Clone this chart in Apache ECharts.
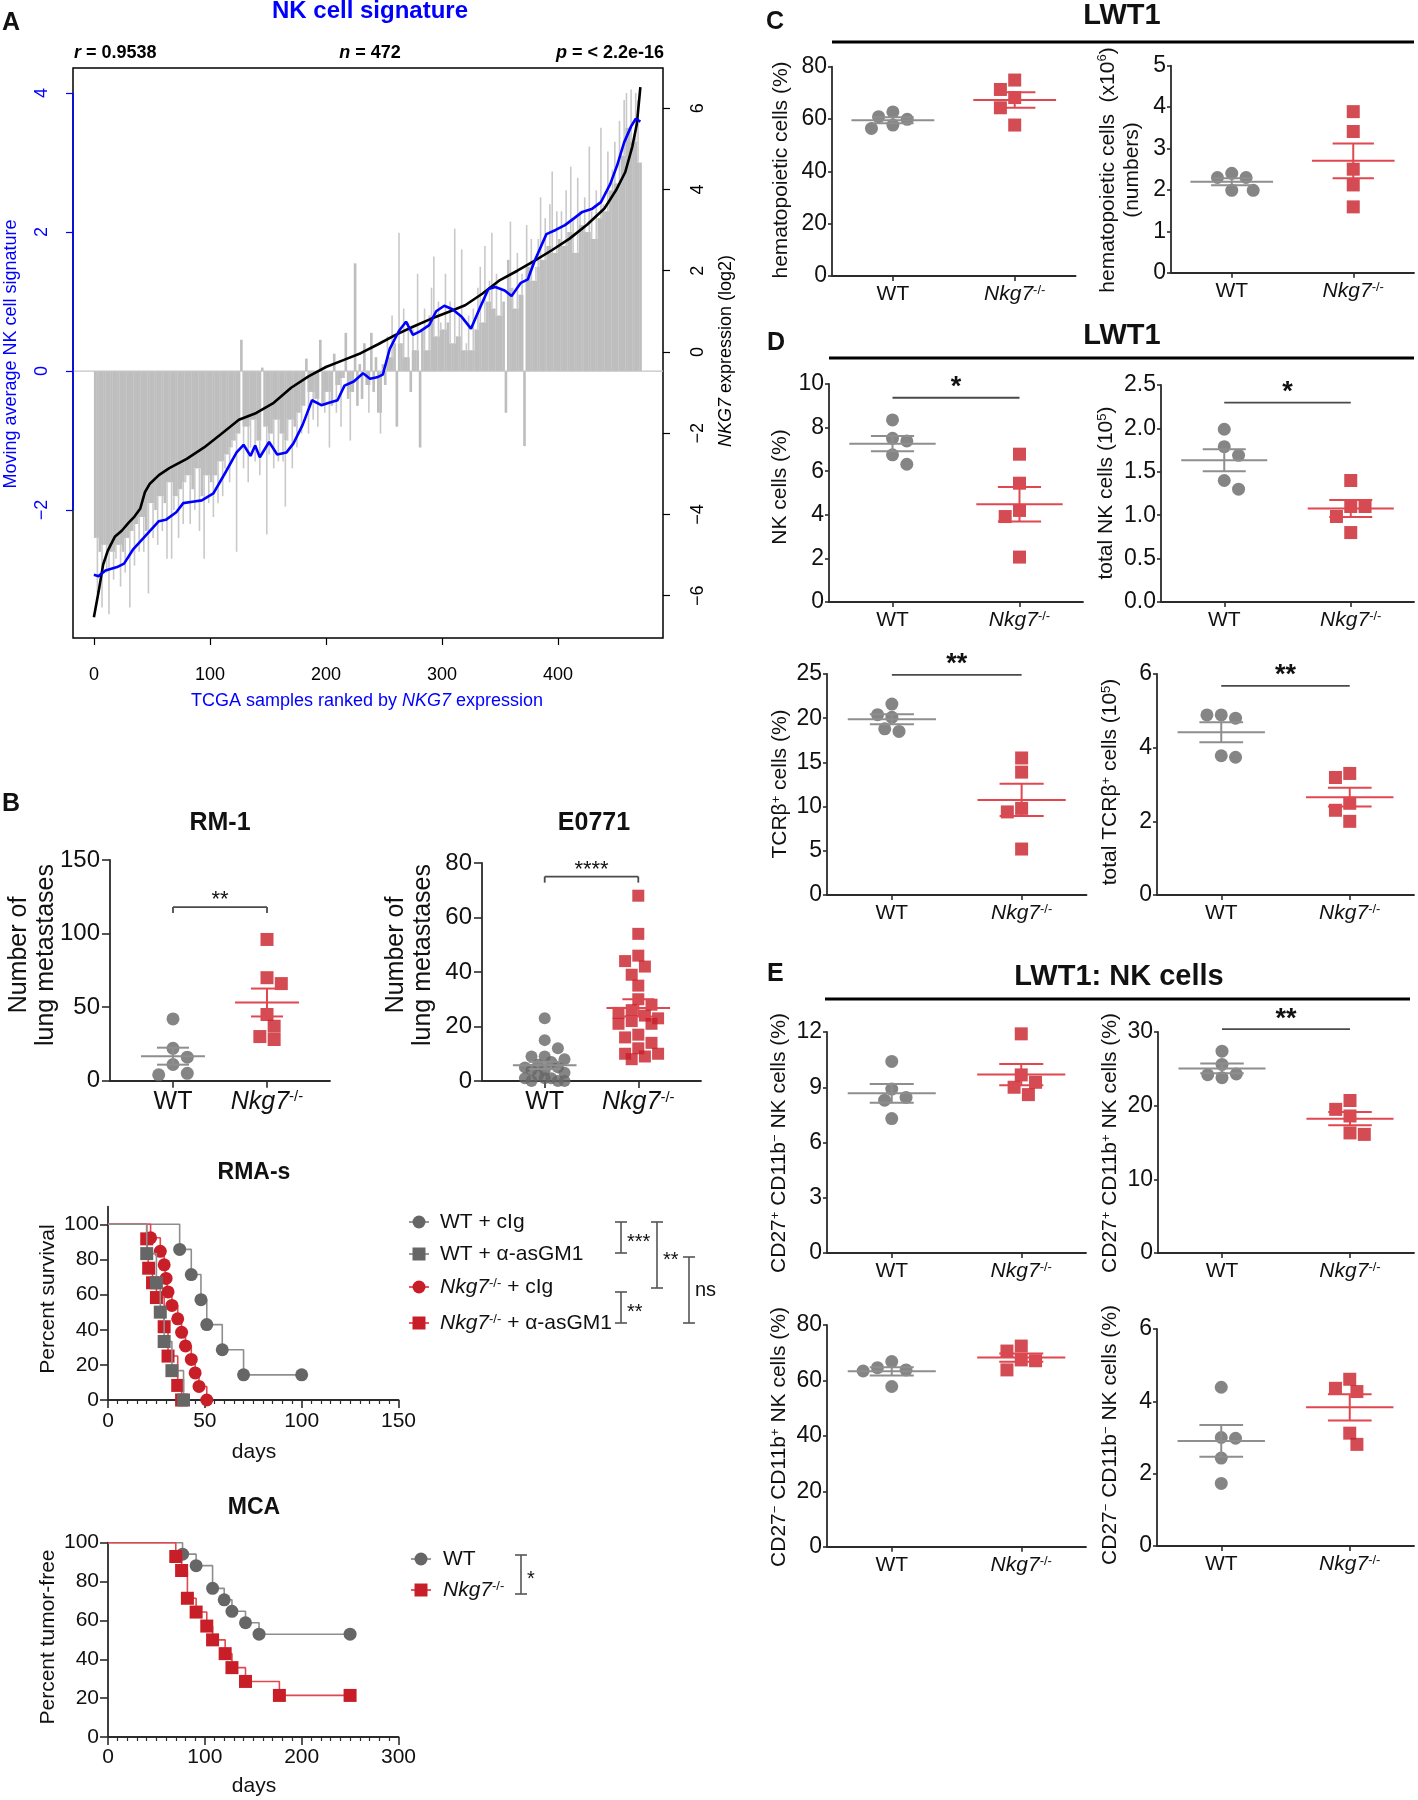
<!DOCTYPE html>
<html><head><meta charset="utf-8">
<script src="https://cdn.jsdelivr.net/npm/echarts@6/dist/echarts.min.js"></script>
<style>html,body{margin:0;padding:0;background:#fff}#c{width:1418px;height:1800px}</style>
</head><body><div id="c"></div>
<script>
// ================= DATA =================
// Panel A: NK cell signature per sample (every 2nd ranked sample: ranks 1,3,5,...,471)
const A_signature = [
-2.4,-3.2,-2.6,-3.4,-2.5,-2.9,-3.5,-2.6,-3.0,-2.7,
-2.5,-3.1,-2.6,-2.9,-2.4,-3.4,-2.3,-2.8,-2.2,-2.6,
-2.1,-2.6,-2.3,-3.2,-1.9,-2.4,-2.0,-2.5,-1.8,-2.3,
-1.9,-2.7,-1.6,-2.7,-2.0,-1.8,-2.4,-1.7,-2.2,-1.6,
-1.5,-2.2,-1.7,-2.0,-1.4,-2.3,-1.8,-2.7,-1.5,-1.9,
-1.6,-2.1,-1.5,-1.9,-1.3,-1.8,-1.4,-1.2,-1.6,-1.1,
-1.0,-2.6,-0.9,0.45,-1.4,-0.8,-1.6,-1.1,-0.7,-1.3,
-1.0,-1.5,0.05,-0.8,-2.35,-1.2,-0.9,-1.4,-0.7,-1.3,
-0.9,-1.3,-1.95,-1.0,-0.7,-1.4,-0.8,-1.1,-0.6,-0.9,
-0.5,0.18,-0.9,-0.3,-0.7,-0.4,-0.8,0.45,-0.5,-0.6,
-0.3,-1.1,-0.5,0.25,-0.6,-0.2,-0.8,-0.1,0.55,-0.4,
-1.0,-0.3,1.55,-0.5,0.1,-0.4,0.4,-0.2,-0.6,0.55,
-0.3,0.2,-0.6,-0.9,0.1,-0.2,0.5,0.2,0.8,0.4,
-0.8,1.99,0.4,0.9,0.2,0.7,-0.3,0.6,0.3,1.4,
-1.1,0.6,0.9,0.3,0.8,1.2,1.65,0.5,1.0,0.7,
0.6,1.4,0.7,1.0,0.4,2.05,0.5,0.8,1.75,0.3,
0.4,0.8,0.3,0.9,0.6,1.2,1.5,0.7,1.8,1.0,
1.3,1.99,0.9,1.4,0.8,1.2,1.0,-0.6,1.6,2.15,
1.2,0.9,1.7,1.1,1.4,-1.08,2.1,1.5,1.9,1.3,
1.5,1.9,2.5,1.6,2.2,1.8,2.4,2.87,1.7,2.3,
1.9,2.3,1.8,2.6,2.0,2.94,2.2,1.7,2.78,2.3,
2.1,2.5,2.0,3.23,2.3,1.9,2.6,2.2,3.5,2.4,
2.3,3.16,2.6,2.9,3.3,2.7,3.6,3.1,3.9,4.0,
3.5,4.05,3.3,4.0,3.9,3.0];
const A_maRank = [0,4,10,20,26,34,45,56,62,71,77,85,93,103,113,123,129,135,139,143,151,158,166,172,180,188,196,202,210,216,224,232,238,244,249,255,263,269,275,281,289,295,302,309,317,325,333,340,346,354,360,368,374,380,390,398,406,414,421,429,437,445,451,457,463,467,471];
const A_maValue = [-2.93,-2.95,-2.87,-2.82,-2.77,-2.56,-2.36,-2.16,-2.14,-2.03,-1.9,-1.88,-1.86,-1.76,-1.47,-1.17,-1.06,-1.22,-1.07,-1.24,-1.02,-1.2,-1.17,-1.04,-0.77,-0.42,-0.49,-0.46,-0.42,-0.21,-0.15,-0.03,-0.11,-0.09,-0.05,0.32,0.58,0.71,0.52,0.57,0.66,0.86,0.94,0.89,0.78,0.61,0.92,1.18,1.21,1.16,1.08,1.27,1.32,1.59,1.97,2.03,2.10,2.20,2.29,2.33,2.43,2.69,2.96,3.29,3.52,3.63,3.59];
const A_nkg7Rank = [0,4,8,12,18,24,30,35,40,44,48,56,65,80,95,110,125,140,155,170,185,200,215,230,245,260,275,290,305,320,335,350,365,380,395,410,425,440,450,458,464,468,471];
const A_nkg7Value = [-6.53,-5.91,-5.23,-4.89,-4.55,-4.40,-4.2,-4.05,-3.85,-3.45,-3.25,-3.03,-2.86,-2.63,-2.35,-2.01,-1.67,-1.5,-1.25,-0.88,-0.6,-0.37,-0.2,-0.03,0.19,0.42,0.62,0.81,0.98,1.15,1.44,1.77,2.0,2.25,2.51,2.79,3.13,3.53,3.98,4.43,5.05,5.62,6.52];
const A_xTicks = [0,100,200,300,400];
const A_leftTicks = [-2,0,2,4];
const A_rightTicks = [-6,-4,-2,0,2,4,6];
const A_stats = {r:'0.9538', n:'472', p:'< 2.2e-16'};

// Panel B
const GROUPS = ['WT','Nkg7-/-'];
const RM1_WT = [42,22,16,11,4,5];
const RM1_KO = [96,66,70,37,28,45,30];
const E0771_WT = [23,15,12,9,9,8,7,6,5,5,4,4,3,2,1,1,1,0,0,0];
const E0771_KO = [68,54,46,44,42,39,35,30,28,26,25,24,23,22,21,21,17,16,14,12,10,10,9,8];
const RMAS_WT_cIg_day = [0,37,43,48,51,59,70,100];
const RMAS_WT_cIg_pct = [100,85.7,71.4,57.1,42.9,28.6,14.3,14.3];
const RMAS_WT_asGM1_day = [0,20,25,27,29,33,39];
const RMAS_WT_asGM1_pct = [100,83.3,66.7,50,33.3,16.7,0];
const RMAS_KO_cIg_day = [0,22,27,29,30,31,33,36,38,40,43,45,47,51];
const RMAS_KO_cIg_pct = [100,92.3,84.6,76.9,69.2,61.5,53.8,46.2,38.5,30.8,23.1,15.4,7.7,0];
const RMAS_KO_asGM1_day = [0,20,21,23,25,29,31,36,38];
const RMAS_KO_asGM1_pct = [100,91.7,75,66.7,58.3,41.7,25,8.3,0];
const MCA_WT_day = [0,77,91,108,120,128,142,156,250];
const MCA_WT_pct = [100,94.1,88.2,76.5,70.6,64.7,58.8,52.9,52.9];
const MCA_KO_day = [0,70,76,82,91,102,108,121,128,142,177,250];
const MCA_KO_pct = [100,92.9,85.7,71.4,64.3,57.1,50,42.9,35.7,28.6,21.4,21.4];

// Panel C
const C_pct_WT = [62.7,59.9,56.4,57.7,60.9];
const C_pct_KO = [71.3,68.2,74.9,64.3,57.7];
const C_num_WT = [2.40,2.30,1.99,1.99,2.30];
const C_num_KO = [3.89,3.41,2.50,2.12,1.59];
// Panel D
const D_nkPct_WT = [8.35,7.51,7.39,6.75,6.32];
const D_nkPct_KO = [6.78,5.45,4.20,3.92,2.06];
const D_nkNum_WT = [1.99,1.79,1.69,1.40,1.30];
const D_nkNum_KO = [1.40,1.10,1.10,0.985,0.80];
const D_tcrPct_WT = [21.6,20.1,20.4,18.5,18.8];
const D_tcrPct_KO = [15.5,13.9,9.8,9.4,5.2];
const D_tcrNum_WT = [4.89,4.80,4.89,3.74,3.78];
const D_tcrNum_KO = [3.30,3.19,2.49,2.30,2.00];
// Panel E
const E_p27n11_WT = [10.4,8.9,8.3,8.45,7.3];
const E_p27n11_KO = [11.9,9.67,9.27,9.0,8.6];
const E_p27p11_WT = [27.4,24.3,23.8,24.2,25.6];
const E_p27p11_KO = [20.7,19.5,18.6,16.3,16.1];
const E_n27p11_WT = [66.8,63.8,63.4,64.6,57.8];
const E_n27p11_KO = [72.4,70.6,67.4,67.1,63.8];
const E_n27n11_WT = [4.39,2.98,3.00,2.43,1.73];
const E_n27n11_KO = [4.61,4.36,4.27,3.12,2.81];

// ================= STYLE / LAYOUT =================
const FONT = "'Liberation Sans', Arial, Helvetica, sans-serif";
const AXIS = '#2b2b2b', TXT = '#111';
const GREY_PT = '#666666', RED_PT = '#c81e28', GREY_LN = '#8e8e8e', RED_LN = '#e0474f';
const BLUE = '#0000ff';

const grids = [], xAxes = [], yAxes = [], series = [], graphics = [];

function labelRich(size, color) {
  return {
    i: {fontStyle:'italic', fontSize:size, fontFamily:FONT, color:color},
    s: {fontSize:Math.round(size*0.6), fontFamily:FONT, color:color, verticalAlign:'top'}
  };
}
function gRich(size, color, bold) {
  const w = bold ? 'bold' : 'normal';
  return {
    i: {fontStyle:'italic', fontWeight:w, fontSize:size, fontFamily:FONT, fill:color},
    s: {fontSize:Math.round(size*0.6), fontWeight:w, fontFamily:FONT, fill:color, verticalAlign:'top'}
  };
}
function T(x, y, text, o) {
  o = o || {};
  const size = o.size || 21, color = o.color || TXT;
  const st = {text:text, fontSize:size, fontFamily:FONT, fontWeight:o.bold?'bold':'normal', fill:color,
    textAlign:o.align||'center', textVerticalAlign:o.va||'middle', rich:gRich(size,color,o.bold)};
  if (o.lh) st.lineHeight = o.lh;
  graphics.push({type:'text', x:x, y:y, rotation:o.rot?Math.PI/2:0, silent:true, z:50, style:st});
}
function L(x1,y1,x2,y2,color,w) {
  graphics.push({type:'line', silent:true, z:50, shape:{x1,y1,x2,y2}, style:{stroke:color||'#000', lineWidth:w||1.5}});
}
function fmtNum(v){ return v < 0 ? '\u2212' + Math.abs(v) : String(v); }

// ================= PANEL A =================
(function(){
  const gi = grids.length;
  grids.push({left:73, top:68, width:590, height:570, show:true, borderColor:'#000', borderWidth:1.5, backgroundColor:'transparent'});
  const xi = xAxes.length;
  xAxes.push({gridIndex:gi, type:'value', min:-18, max:490.5, splitLine:{show:false},
    axisLine:{show:false, onZero:false},
    axisTick:{show:true, customValues:A_xTicks, length:7, lineStyle:{color:'#000', width:1.2}},
    axisLabel:{show:true, customValues:A_xTicks, margin:28, fontSize:18, color:'#000', fontFamily:FONT}});
  const yl = yAxes.length;
  yAxes.push({gridIndex:gi, type:'value', position:'left', min:-3.84, max:4.36, splitLine:{show:false},
    axisLine:{show:false, onZero:false},
    axisTick:{show:true, customValues:A_leftTicks, length:7, lineStyle:{color:BLUE, width:1.2}},
    axisLabel:{show:true, customValues:A_leftTicks, rotate:90, margin:22, fontSize:18, color:BLUE, fontFamily:FONT, formatter:fmtNum}});
  const yr = yAxes.length;
  yAxes.push({gridIndex:gi, type:'value', position:'right', min:-7.04, max:6.99, splitLine:{show:false},
    axisLine:{show:false, onZero:false},
    axisTick:{show:true, customValues:A_rightTicks, length:7, lineStyle:{color:'#000', width:1.2}},
    axisLabel:{show:true, customValues:A_rightTicks, rotate:90, margin:26, fontSize:18, color:'#000', fontFamily:FONT, formatter:fmtNum}});
  // bars: solid part up to the local neighbour envelope, thin lighter spike beyond
  series.push({type:'custom', xAxisIndex:xi, yAxisIndex:yl, silent:true, clip:true, z:1,
    data:A_signature.map((v,i)=>[2*i+1, v, i]),
    renderItem:function(params, api){
      const s = api.value(0), v = api.value(1), i = api.value(2);
      const nb = [A_signature[i-1], v, A_signature[i+1]].filter(u => u !== undefined && u*v > 0);
      const env = v === 0 ? 0 : Math.sign(v) * Math.min.apply(null, nb.map(Math.abs));
      const x0 = api.coord([s-1, 0])[0], x1 = api.coord([s+1, 0])[0];
      const y0 = api.coord([s, 0])[1], ye = api.coord([s, env])[1], yv = api.coord([s, v])[1];
      const xm = (x0+x1)/2;
      const ch = [{type:'rect', shape:{x:x0, y:Math.min(y0,ye), width:x1-x0+0.3, height:Math.abs(ye-y0)}, style:{fill:'#bebebe'}}];
      if (Math.abs(yv-ye) > 0.5) ch.push({type:'rect', shape:{x:xm-0.8, y:Math.min(ye,yv), width:1.6, height:Math.abs(yv-ye)}, style:{fill:'#c9c9c9'}});
      return {type:'group', children:ch};
    }});
  series.push({type:'custom', xAxisIndex:xi, yAxisIndex:yl, silent:true, clip:false, z:2, data:[[0,0]],
    renderItem:function(params, api){
      const a = api.coord([-18,0]), b = api.coord([490.5,0]);
      return {type:'line', shape:{x1:a[0], y1:a[1], x2:b[0], y2:b[1]}, style:{stroke:'#c4c4c4', lineWidth:1.2}};
    }});
  series.push({type:'custom', xAxisIndex:xi, yAxisIndex:yl, silent:true, clip:false, z:10, data:[[0,0]],
    renderItem:function(params, api){
      const a = api.coord([-18,4]), b = api.coord([-18,-2]);
      return {type:'line', shape:{x1:a[0], y1:a[1], x2:b[0], y2:b[1]}, style:{stroke:BLUE, lineWidth:1.5}};
    }});
  series.push({type:'line', xAxisIndex:xi, yAxisIndex:yr, symbol:'none', silent:true, z:4,
    lineStyle:{color:'#000', width:2.6}, data:A_nkg7Rank.map((r,i)=>[r, A_nkg7Value[i]])});
  series.push({type:'line', xAxisIndex:xi, yAxisIndex:yl, symbol:'none', silent:true, z:5,
    lineStyle:{color:BLUE, width:2.6}, data:A_maRank.map((r,i)=>[r, A_maValue[i]])});

  T(2, 23, 'A', {bold:true, size:25, align:'left'});
  T(370, 11, 'NK cell signature', {bold:true, size:24, color:BLUE});
  T(74, 53, '{i|r} = ' + A_stats.r, {bold:true, size:18, align:'left', color:'#000'});
  T(370, 53, '{i|n} = ' + A_stats.n, {bold:true, size:18, color:'#000'});
  T(664, 53, '{i|p} = ' + A_stats.p, {bold:true, size:18, align:'right', color:'#000'});
  T(11, 354, 'Moving average NK cell signature', {size:18, color:BLUE, rot:true});
  T(726, 351, '{i|NKG7} expression (log2)', {size:18, color:'#000', rot:true});
  T(367, 701, 'TCGA samples ranked by {i|NKG7} expression', {size:18, color:BLUE});
})();

// ================= DOT PLOTS =================
function mean(a){ return a.reduce((s,v)=>s+v,0)/a.length; }
function sem(a){ const m = mean(a); const v = a.reduce((s,x)=>s+(x-m)*(x-m),0)/(a.length-1); return Math.sqrt(v/a.length); }
function swarm(vals, pxY, pxX, d, maxOff) {
  const order = vals.map((v,i)=>i).sort((a,b)=>vals[b]-vals[a]);
  const placed = [], offs = new Array(vals.length);
  const step = d*0.55;
  order.forEach(function(i, k){
    const y = vals[i]*pxY;
    const sgn = (k % 2) ? -1 : 1;
    const cands = [0];
    for (let j=1; j*step <= maxOff+0.01; j++) cands.push(sgn*j*step, -sgn*j*step);
    let best = 0, bestScore = -Infinity;
    for (const c of cands) {
      let minD = Infinity;
      for (const p of placed) minD = Math.min(minD, Math.hypot(p.x-c, p.y-y));
      if (minD >= d) { best = c; bestScore = Infinity; break; }
      if (minD > bestScore) { bestScore = minD; best = c; }
    }
    placed.push({x:best, y:y});
    offs[i] = best/pxX;
  });
  return offs;
}

const dotPanels = [
  {wt:RM1_WT, ko:RM1_KO, left:110, top:860, width:220, height:220.7, ymax:150, yint:50, xmin:-0.67, xmax:1.67, big:true, sig:{y:118, text:'**', bracket:true}},
  {wt:E0771_WT, ko:E0771_KO, left:482, top:863, width:219, height:218, ymax:80, yint:20, xmin:-0.67, xmax:1.67, big:true, msize:12, sig:{y:75, text:'****', bracket:true}},
  {wt:C_pct_WT, ko:C_pct_KO, left:832, top:66.7, width:243.6, height:209.3, ymax:80, yint:20},
  {wt:C_num_WT, ko:C_num_KO, left:1171, top:65.7, width:243, height:207, ymax:5, yint:1},
  {wt:D_nkPct_WT, ko:D_nkPct_KO, left:829, top:384, width:254, height:218, ymax:10, yint:2, sig:{y:9.37, text:'*'}},
  {wt:D_nkNum_WT, ko:D_nkNum_KO, left:1161, top:385, width:253, height:217, ymax:2.5, yint:0.5, dec:1, sig:{y:2.297, text:'*'}},
  {wt:D_tcrPct_WT, ko:D_tcrPct_KO, left:827, top:674, width:259.5, height:221, ymax:25, yint:5, sig:{y:24.9, text:'**'}},
  {wt:D_tcrNum_WT, ko:D_tcrNum_KO, left:1157, top:674, width:257, height:221, ymax:6, yint:2, sig:{y:5.68, text:'**'}},
  {wt:E_p27n11_WT, ko:E_p27n11_KO, left:827, top:1032, width:259, height:221, ymax:12, yint:3},
  {wt:E_p27p11_WT, ko:E_p27p11_KO, left:1158, top:1032, width:256, height:221, ymax:30, yint:10, sig:{y:30.4, text:'**'}},
  {wt:E_n27p11_WT, ko:E_n27p11_KO, left:827, top:1325, width:259, height:221.7, ymax:80, yint:20},
  {wt:E_n27n11_WT, ko:E_n27n11_KO, left:1157, top:1329, width:257, height:217, ymax:6, yint:2}
];

dotPanels.forEach(function(p){
  const xmin = p.xmin !== undefined ? p.xmin : -0.5, xmax = p.xmax !== undefined ? p.xmax : 1.5;
  const big = !!p.big;
  const gi = grids.length;
  grids.push({left:p.left, top:p.top, width:p.width, height:p.height});
  const xi = xAxes.length, yi = yAxes.length;
  const xs = big ? 25 : 21;
  xAxes.push({gridIndex:gi, type:'value', min:xmin, max:xmax, splitLine:{show:false},
    axisLine:{show:true, onZero:false, lineStyle:{color:AXIS, width:1.8}},
    axisTick:{show:true, customValues:[0,1], length:big?7:5, lineStyle:{color:AXIS, width:1.6}},
    axisLabel:{show:true, customValues:[0,1], margin:big?9:8, fontSize:xs, color:TXT, fontFamily:FONT,
      formatter:function(v){ return v < 0.5 ? GROUPS[0] : '{i|Nkg7}{s|-/-}'; }, rich:labelRich(xs, TXT)}});
  yAxes.push({gridIndex:gi, type:'value', min:0, max:p.ymax, interval:p.yint, splitLine:{show:false},
    axisLine:{show:true, onZero:false, lineStyle:{color:AXIS, width:1.8}},
    axisTick:{show:true, length:big?8:4, lineStyle:{color:AXIS, width:1.6}},
    axisLabel:{show:true, margin:big?10:5, fontSize:big?24:23, color:TXT, fontFamily:FONT,
      formatter:function(v){ return p.dec ? v.toFixed(p.dec) : String(v); }}});
  const pxY = p.height / p.ymax, pxX = p.width / (xmax - xmin);
  const ms = p.msize || 13;
  const maxOff = 0.27 * pxX;
  const offW = swarm(p.wt, pxY, pxX, ms, maxOff), offK = swarm(p.ko, pxY, pxX, ms, maxOff);
  series.push({type:'scatter', xAxisIndex:xi, yAxisIndex:yi, symbol:'circle', symbolSize:ms, silent:true, z:3,
    itemStyle:{color:GREY_PT}, data:p.wt.map((v,i)=>[0+offW[i], v])});
  series.push({type:'scatter', xAxisIndex:xi, yAxisIndex:yi, symbol:'rect', symbolSize:ms, silent:true, z:3,
    itemStyle:{color:RED_PT}, data:p.ko.map((v,i)=>[1+offK[i], v])});
  series.push({type:'custom', xAxisIndex:xi, yAxisIndex:yi, silent:true, clip:false, z:6,
    data:[[0, mean(p.wt), sem(p.wt)], [1, mean(p.ko), sem(p.ko)]],
    renderItem:function(params, api){
      const g = api.value(0), m = api.value(1), s = api.value(2);
      const color = g === 0 ? GREY_LN : RED_LN;
      const W = 0.34, C = 0.17;
      const segs = [[g-W,m,g+W,m],[g-C,m+s,g+C,m+s],[g-C,m-s,g+C,m-s],[g,m-s,g,m+s]];
      return {type:'group', children:segs.map(function(l){
        const a = api.coord([l[0],l[1]]), b = api.coord([l[2],l[3]]);
        return {type:'line', shape:{x1:a[0],y1:a[1],x2:b[0],y2:b[1]}, style:{stroke:color, lineWidth:2}};
      })};
    }});
  if (p.sig) {
    const sg = p.sig;
    series.push({type:'custom', xAxisIndex:xi, yAxisIndex:yi, silent:true, clip:false, z:6,
      data:[[0, sg.y]],
      renderItem:function(params, api){
        const y = api.value(1);
        const a = api.coord([0,y]), b = api.coord([1,y]);
        const ch = [{type:'line', shape:{x1:a[0],y1:a[1],x2:b[0],y2:b[1]}, style:{stroke:'#4a4a4a', lineWidth:1.8}}];
        if (sg.bracket) {
          ch.push({type:'line', shape:{x1:a[0],y1:a[1],x2:a[0],y2:a[1]+6}, style:{stroke:'#4a4a4a', lineWidth:1.8}});
          ch.push({type:'line', shape:{x1:b[0],y1:b[1],x2:b[0],y2:b[1]+6}, style:{stroke:'#4a4a4a', lineWidth:1.8}});
        }
        const fs = sg.bracket ? 22 : 27;
        ch.push({type:'text', style:{text:sg.text, x:(a[0]+b[0])/2, y:a[1] - (sg.bracket ? 7 : 10),
          textAlign:'center', textVerticalAlign:'middle', align:'center', verticalAlign:'middle',
          fontSize:fs, fontWeight:sg.bracket?'normal':'bold', fontFamily:FONT, fill:TXT}});
        return {type:'group', children:ch};
      }});
  }
});

// ================= SURVIVAL =================
function survPanel(p) {
  const gi = grids.length;
  grids.push({left:p.left, top:p.top, width:p.width, height:p.height});
  const xi = xAxes.length, yi = yAxes.length;
  xAxes.push({gridIndex:gi, type:'value', min:0, max:p.xmax, interval:p.xint, splitLine:{show:false},
    axisLine:{show:true, onZero:false, lineStyle:{color:AXIS, width:1.8}},
    axisTick:{show:true, length:8, lineStyle:{color:AXIS, width:1.6}},
    minorTick:{show:true, splitNumber:10, length:4, lineStyle:{color:AXIS, width:1.2}},
    axisLabel:{show:true, margin:p.xmargin, fontSize:21, color:TXT, fontFamily:FONT}});
  const yt = [0,20,40,60,80,100];
  yAxes.push({gridIndex:gi, type:'value', min:0, max:p.ymax, splitLine:{show:false},
    axisLine:{show:true, onZero:false, lineStyle:{color:AXIS, width:1.8}},
    axisTick:{show:true, customValues:yt, length:8, lineStyle:{color:AXIS, width:1.6}},
    axisLabel:{show:true, customValues:yt, margin:9, fontSize:21, color:TXT, fontFamily:FONT}});
  p.curves.forEach(function(c){
    series.push({type:'line', xAxisIndex:xi, yAxisIndex:yi, step:'end', silent:true, z:c.z||3,
      showAllSymbol:true, symbol:c.sym, symbolSize:13, clip:false,
      lineStyle:{color:c.line, width:1.6}, itemStyle:{color:c.pt},
      data:c.day.map((d,i)=> i === 0 ? {value:[d, c.pct[i]], symbol:'none'} : [d, c.pct[i]])});
  });
}
survPanel({left:108, top:1206.7, width:290.5, height:193.3, xmax:150, xint:50, ymax:110, xmargin:11, curves:[
  {day:RMAS_WT_cIg_day, pct:RMAS_WT_cIg_pct, sym:'circle', line:GREY_LN, pt:GREY_PT, z:3},
  {day:RMAS_KO_cIg_day, pct:RMAS_KO_cIg_pct, sym:'circle', line:RED_LN, pt:RED_PT, z:4},
  {day:RMAS_KO_asGM1_day, pct:RMAS_KO_asGM1_pct, sym:'rect', line:RED_LN, pt:RED_PT, z:4},
  {day:RMAS_WT_asGM1_day, pct:RMAS_WT_asGM1_pct, sym:'rect', line:GREY_LN, pt:GREY_PT, z:5}
]});
survPanel({left:108, top:1542.7, width:290.5, height:194.3, xmax:300, xint:100, ymax:100, xmargin:10, curves:[
  {day:MCA_WT_day, pct:MCA_WT_pct, sym:'circle', line:GREY_LN, pt:GREY_PT, z:3},
  {day:MCA_KO_day, pct:MCA_KO_pct, sym:'rect', line:RED_LN, pt:RED_PT, z:4}
]});

// ================= TEXTS, LEGENDS =================
// B
T(2, 804, 'B', {bold:true, size:25, align:'left'});
T(220, 823, 'RM-1', {bold:true, size:25});
T(594, 823, 'E0771', {bold:true, size:25});
T(33, 955, 'Number of\nlung metastases', {size:25, rot:true, lh:27});
T(410, 955, 'Number of\nlung metastases', {size:25, rot:true, lh:27});
T(254, 1173, 'RMA-s', {bold:true, size:23});
T(48, 1299, 'Percent survival', {size:21, rot:true});
T(254, 1452, 'days', {size:21});
T(254, 1508, 'MCA', {bold:true, size:23});
T(48, 1637, 'Percent tumor-free', {size:21, rot:true});
T(254, 1786, 'days', {size:21});

function legendItem(x, y, text, sym, line, pt, tx) {
  L(x-10, y, x+10, y, line, 1.8);
  if (sym === 'circle') graphics.push({type:'circle', silent:true, z:51, shape:{cx:x, cy:y, r:6.5}, style:{fill:pt}});
  else graphics.push({type:'rect', silent:true, z:51, shape:{x:x-6.5, y:y-6.5, width:13, height:13}, style:{fill:pt}});
  T(tx, y, text, {size:21, align:'left'});
}
legendItem(419, 1222, 'WT + cIg', 'circle', GREY_LN, GREY_PT, 440);
legendItem(419, 1254, 'WT + \u03b1-asGM1', 'rect', GREY_LN, GREY_PT, 440);
legendItem(419, 1287, '{i|Nkg7}{s|-/-} + cIg', 'circle', RED_LN, RED_PT, 440);
legendItem(419, 1323, '{i|Nkg7}{s|-/-} + \u03b1-asGM1', 'rect', RED_LN, RED_PT, 440);
function bracket(x, y1, y2, label) {
  const c = '#555';
  L(x, y1, x, y2, c, 1.6); L(x-6, y1, x+6, y1, c, 1.6); L(x-6, y2, x+6, y2, c, 1.6);
  const isStar = label.indexOf('*') >= 0;
  T(x+6, (y1+y2)/2 + (isStar ? 5 : 0), label, {size:20, align:'left'});
}
bracket(621, 1222, 1253, '***');
bracket(657, 1222, 1288, '**');
bracket(621, 1292, 1323, '**');
bracket(689, 1257, 1323, 'ns');
legendItem(421, 1559, 'WT', 'circle', GREY_LN, GREY_PT, 443);
legendItem(421, 1590, '{i|Nkg7}{s|-/-}', 'rect', RED_LN, RED_PT, 443);
bracket(521, 1555, 1594, '*');

// C / D / E headers
T(766, 22, 'C', {bold:true, size:25, align:'left'});
T(1122, 16, 'LWT1', {bold:true, size:29});
L(832, 42, 1414, 42, '#000', 3);
T(767, 343, 'D', {bold:true, size:25, align:'left'});
T(1122, 336, 'LWT1', {bold:true, size:29});
L(829, 358, 1414, 358, '#000', 3);
T(767, 974, 'E', {bold:true, size:25, align:'left'});
T(1119, 977, 'LWT1: NK cells', {bold:true, size:29});
L(825, 999, 1410, 999, '#000', 3);

// y-axis titles
T(781, 170, 'hematopoietic cells (%)', {size:21, rot:true});
T(1120, 170, 'hematopoietic cells  (x10{s|6})\n(numbers)', {size:21, rot:true, lh:24});
T(780, 487, 'NK cells (%)', {size:21, rot:true});
T(1106, 493, 'total NK cells (10{s|5})', {size:21, rot:true});
T(780, 784, 'TCR\u03b2{s|+} cells (%)', {size:21, rot:true});
T(1110, 782, 'total TCR\u03b2{s|+} cells (10{s|5})', {size:21, rot:true});
T(779, 1143, 'CD27{s|+} CD11b{s|\u2212} NK cells (%)', {size:21, rot:true});
T(1110, 1143, 'CD27{s|+} CD11b{s|+} NK cells (%)', {size:21, rot:true});
T(779, 1437, 'CD27{s|\u2212} CD11b{s|+} NK cells (%)', {size:21, rot:true});
T(1110, 1435, 'CD27{s|\u2212} CD11b{s|\u2212} NK cells (%)', {size:21, rot:true});

const chart = echarts.init(document.getElementById('c'), null, {renderer:'canvas', width:1418, height:1800});
chart.setOption({animation:false, backgroundColor:'#ffffff', textStyle:{fontFamily:FONT},
  grid:grids, xAxis:xAxes, yAxis:yAxes, series:series, graphic:graphics});
</script>
</body></html>
